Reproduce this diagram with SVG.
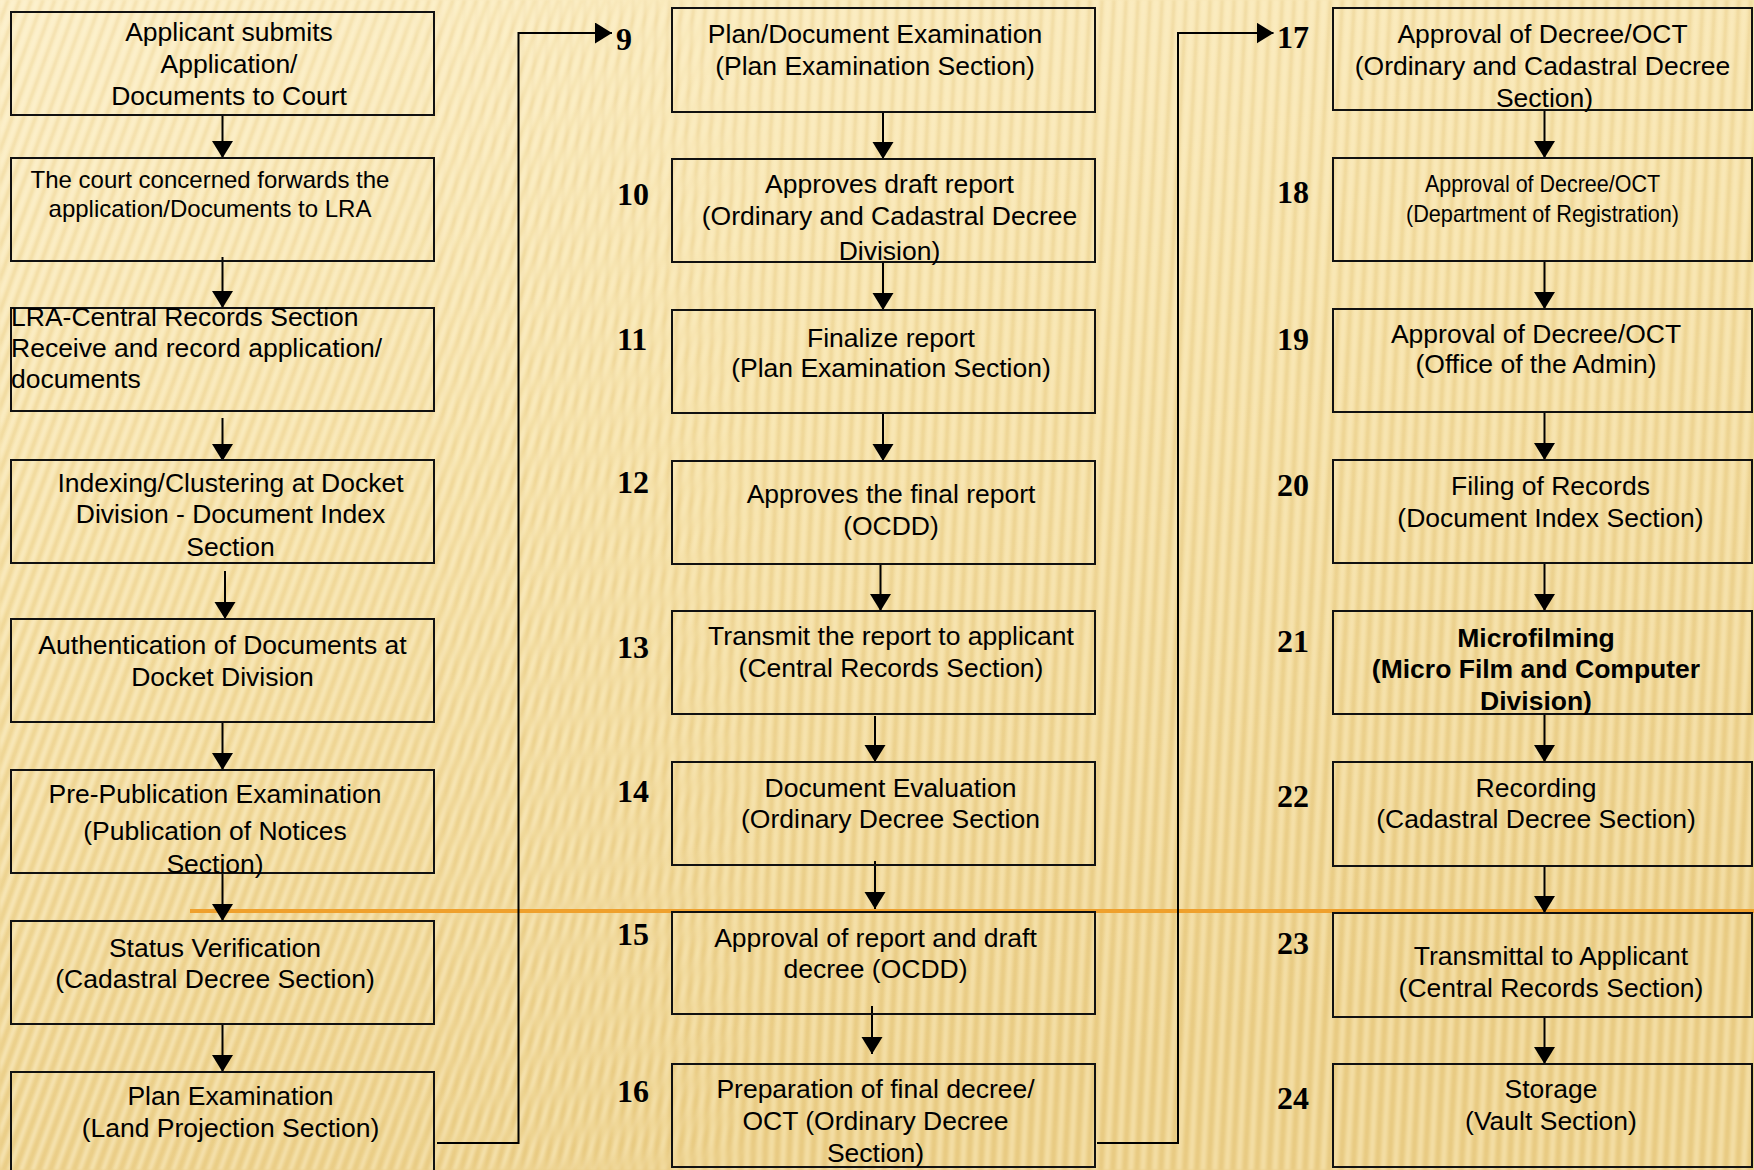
<svg xmlns="http://www.w3.org/2000/svg" width="1754" height="1170" viewBox="0 0 1754 1170">
  <defs>
    <linearGradient id="bg" x1="0" y1="0" x2="0.35" y2="1">
      <stop offset="0" stop-color="#FBEDC4"/>
      <stop offset="0.45" stop-color="#F5E0A6"/>
      <stop offset="1" stop-color="#ECD08A"/>
    </linearGradient>
    <pattern id="streakSlant" width="11" height="60" patternUnits="userSpaceOnUse" patternTransform="rotate(20)">
      <rect x="0" width="4" height="60" fill="#FFF8DC" opacity="0.4"/>
      <rect x="6" width="3" height="60" fill="#D9B865" opacity="0.22"/>
    </pattern>
    <pattern id="streakUp" width="12" height="60" patternUnits="userSpaceOnUse" patternTransform="rotate(3)">
      <rect x="0" width="5" height="60" fill="#FFF4D0" opacity="0.4"/>
      <rect x="7" width="3" height="60" fill="#D6B462" opacity="0.25"/>
    </pattern>
    <filter id="soft" x="0" y="0" width="1" height="1">
      <feGaussianBlur stdDeviation="1.3"/>
    </filter>
    <linearGradient id="fadeLeft" x1="0" y1="0" x2="1" y2="0">
      <stop offset="0" stop-color="#fff" stop-opacity="1"/>
      <stop offset="0.3" stop-color="#fff" stop-opacity="0.8"/>
      <stop offset="0.45" stop-color="#fff" stop-opacity="0"/>
    </linearGradient>
    <linearGradient id="fadeRight" x1="0" y1="0" x2="1" y2="0">
      <stop offset="0.2" stop-color="#fff" stop-opacity="0"/>
      <stop offset="0.45" stop-color="#fff" stop-opacity="0.9"/>
      <stop offset="1" stop-color="#fff" stop-opacity="0.9"/>
    </linearGradient>
    <mask id="maskLeft"><rect width="1754" height="1170" fill="url(#fadeLeft)"/></mask>
    <mask id="maskRight"><rect width="1754" height="1170" fill="url(#fadeRight)"/></mask>
    <marker id="arrow" markerUnits="userSpaceOnUse" markerWidth="18" markerHeight="22" refX="17" refY="10.5" orient="auto">
      <path d="M0,0 L17,10.5 L0,21 Z" fill="#000"/>
    </marker>
  </defs>
  <style>
    .box { fill: none; stroke: #111; stroke-width: 2; }
    .t { font-family: "Liberation Sans", Arial, sans-serif; font-size: 26.5px; fill: #000; text-anchor: middle; }
    .sm { font-size: 24px; }
    .b { font-weight: bold; }
    .l { text-anchor: start; }
    .num { font-family: "Liberation Serif", "Times New Roman", serif; font-size: 32px; font-weight: bold; fill: #000; }
    .link { fill: none; stroke: #000; stroke-width: 2; }
    .step { marker-end: url(#arrow); }
  </style>

  <!-- background -->
  <rect width="1754" height="1170" fill="url(#bg)"/>
  <g filter="url(#soft)">
    <rect width="1754" height="1170" fill="url(#streakSlant)" mask="url(#maskLeft)"/>
    <rect width="1754" height="1170" fill="url(#streakUp)" mask="url(#maskRight)"/>
  </g>

  <!-- divider -->
  <line x1="190" y1="911" x2="1754" y2="911" stroke="#EFA02C" stroke-width="4"/>

  <!-- connectors -->
  <g id="connectors">
    <line class="link step" x1="222.5" y1="115" x2="222.5" y2="158"/>
    <line class="link step" x1="222.5" y1="257" x2="222.5" y2="308"/>
    <line class="link step" x1="222.5" y1="418" x2="222.5" y2="461"/>
    <line class="link step" x1="225" y1="571" x2="225" y2="619"/>
    <line class="link step" x1="222.5" y1="722" x2="222.5" y2="770"/>
    <line class="link step" x1="222.5" y1="873" x2="222.5" y2="921"/>
    <line class="link step" x1="222.5" y1="1024" x2="222.5" y2="1072"/>
    <path class="link step" d="M437,1143 H518.5 V33 H612"/>

    <line class="link step" x1="883" y1="112" x2="883" y2="159"/>
    <line class="link step" x1="883" y1="262" x2="883" y2="310"/>
    <line class="link step" x1="883" y1="413" x2="883" y2="461"/>
    <line class="link step" x1="880.5" y1="564" x2="880.5" y2="611"/>
    <line class="link step" x1="875" y1="716" x2="875" y2="762"/>
    <line class="link step" x1="875" y1="861" x2="875" y2="909"/>
    <line class="link step" x1="872" y1="1006" x2="872" y2="1054"/>
    <path class="link step" d="M1097,1143 H1178 V33 H1273.5"/>

    <line class="link step" x1="1544.5" y1="110" x2="1544.5" y2="158"/>
    <line class="link step" x1="1544.5" y1="261" x2="1544.5" y2="309"/>
    <line class="link step" x1="1544.5" y1="412" x2="1544.5" y2="460"/>
    <line class="link step" x1="1544.5" y1="563" x2="1544.5" y2="611"/>
    <line class="link step" x1="1544.5" y1="714" x2="1544.5" y2="762"/>
    <line class="link step" x1="1544.5" y1="866" x2="1544.5" y2="913"/>
    <line class="link step" x1="1544.5" y1="1017" x2="1544.5" y2="1064"/>
  </g>

  <!-- left column -->
  <g id="n1">
    <rect class="box" x="11" y="12" width="423" height="103"/>
    <text class="t" x="229" y="41">Applicant submits</text>
    <text class="t" x="229" y="73">Application/</text>
    <text class="t" x="229" y="105">Documents to Court</text>
  </g>
  <g id="n2">
    <rect class="box" x="11" y="158" width="423" height="103"/>
    <text class="t sm" x="210" y="188">The court concerned forwards the</text>
    <text class="t sm" x="210" y="217">application/Documents to LRA</text>
  </g>
  <g id="n3">
    <rect class="box" x="11" y="308" width="423" height="103"/>
    <text class="t l" x="11" y="326">LRA-Central Records Section</text>
    <text class="t l" x="11" y="357">Receive and record application/</text>
    <text class="t l" x="11" y="388">documents</text>
  </g>
  <g id="n4">
    <rect class="box" x="11" y="460" width="423" height="103"/>
    <text class="t" x="230.5" y="492">Indexing/Clustering at Docket</text>
    <text class="t" x="230.5" y="523">Division - Document Index</text>
    <text class="t" x="230.5" y="556">Section</text>
  </g>
  <g id="n5">
    <rect class="box" x="11" y="619" width="423" height="103"/>
    <text class="t" x="222.5" y="654">Authentication of Documents at</text>
    <text class="t" x="222.5" y="686">Docket Division</text>
  </g>
  <g id="n6">
    <rect class="box" x="11" y="770" width="423" height="103"/>
    <text class="t" x="215" y="803">Pre-Publication Examination</text>
    <text class="t" x="215" y="840">(Publication of Notices</text>
    <text class="t" x="215" y="873">Section)</text>
  </g>
  <g id="n7">
    <rect class="box" x="11" y="921" width="423" height="103"/>
    <text class="t" x="215" y="957">Status Verification</text>
    <text class="t" x="215" y="988">(Cadastral Decree Section)</text>
  </g>
  <g id="n8">
    <rect class="box" x="11" y="1072" width="423" height="103"/>
    <text class="t" x="230.5" y="1105">Plan Examination</text>
    <text class="t" x="230.5" y="1137">(Land Projection Section)</text>
  </g>

  <!-- middle column -->
  <g id="n9">
    <text class="num" x="616" y="50">9</text>
    <rect class="box" x="672" y="8" width="423" height="104"/>
    <text class="t" x="875" y="43">Plan/Document Examination</text>
    <text class="t" x="875" y="75">(Plan Examination Section)</text>
  </g>
  <g id="n10">
    <text class="num" x="617" y="205">10</text>
    <rect class="box" x="672" y="159" width="423" height="103"/>
    <text class="t" x="889.5" y="193">Approves draft report</text>
    <text class="t" x="889.5" y="225">(Ordinary and Cadastral Decree</text>
    <text class="t" x="889.5" y="260">Division)</text>
  </g>
  <g id="n11">
    <text class="num" x="617" y="350">11</text>
    <rect class="box" x="672" y="310" width="423" height="103"/>
    <text class="t" x="891" y="347">Finalize report</text>
    <text class="t" x="891" y="377">(Plan Examination Section)</text>
  </g>
  <g id="n12">
    <text class="num" x="617" y="493">12</text>
    <rect class="box" x="672" y="461" width="423" height="103"/>
    <text class="t" x="891" y="503">Approves the final report</text>
    <text class="t" x="891" y="535">(OCDD)</text>
  </g>
  <g id="n13">
    <text class="num" x="617" y="658">13</text>
    <rect class="box" x="672" y="611" width="423" height="103"/>
    <text class="t" x="891" y="645">Transmit the report to applicant</text>
    <text class="t" x="891" y="677">(Central Records Section)</text>
  </g>
  <g id="n14">
    <text class="num" x="617" y="802">14</text>
    <rect class="box" x="672" y="762" width="423" height="103"/>
    <text class="t" x="890.5" y="797">Document Evaluation</text>
    <text class="t" x="890.5" y="828">(Ordinary Decree Section</text>
  </g>
  <g id="n15">
    <text class="num" x="617" y="945">15</text>
    <rect class="box" x="672" y="912" width="423" height="102"/>
    <text class="t" x="875.5" y="947">Approval of report and draft</text>
    <text class="t" x="875.5" y="978">decree (OCDD)</text>
  </g>
  <g id="n16">
    <text class="num" x="617" y="1102">16</text>
    <rect class="box" x="672" y="1064" width="423" height="103"/>
    <text class="t" x="875.5" y="1098">Preparation of final decree/</text>
    <text class="t" x="875.5" y="1130">OCT (Ordinary Decree</text>
    <text class="t" x="875.5" y="1162">Section)</text>
  </g>

  <!-- right column -->
  <g id="n17">
    <text class="num" x="1277" y="48">17</text>
    <rect class="box" x="1333" y="8" width="419" height="102"/>
    <text class="t" x="1542.5" y="43">Approval of Decree/OCT</text>
    <text class="t" x="1542.5" y="75">(Ordinary and Cadastral Decree</text>
    <text class="t" x="1544.5" y="107">Section)</text>
  </g>
  <g id="n18">
    <text class="num" x="1277" y="203">18</text>
    <rect class="box" x="1333" y="158" width="419" height="103"/>
    <text class="t sm" x="1542.5" y="192" textLength="235" lengthAdjust="spacingAndGlyphs">Approval of Decree/OCT</text>
    <text class="t sm" x="1542.5" y="222" textLength="273" lengthAdjust="spacingAndGlyphs">(Department of Registration)</text>
  </g>
  <g id="n19">
    <text class="num" x="1277" y="350">19</text>
    <rect class="box" x="1333" y="309" width="419" height="103"/>
    <text class="t" x="1536" y="343">Approval of Decree/OCT</text>
    <text class="t" x="1536" y="373">(Office of the Admin)</text>
  </g>
  <g id="n20">
    <text class="num" x="1277" y="496">20</text>
    <rect class="box" x="1333" y="460" width="419" height="103"/>
    <text class="t" x="1550.5" y="495">Filing of Records</text>
    <text class="t" x="1550.5" y="527">(Document Index Section)</text>
  </g>
  <g id="n21">
    <text class="num" x="1277" y="652">21</text>
    <rect class="box" x="1333" y="611" width="419" height="103"/>
    <text class="t b" x="1536" y="647">Microfilming</text>
    <text class="t b" x="1536" y="678">(Micro Film and Computer</text>
    <text class="t b" x="1536" y="710">Division)</text>
  </g>
  <g id="n22">
    <text class="num" x="1277" y="807">22</text>
    <rect class="box" x="1333" y="762" width="419" height="104"/>
    <text class="t" x="1536" y="797">Recording</text>
    <text class="t" x="1536" y="828">(Cadastral Decree Section)</text>
  </g>
  <g id="n23">
    <text class="num" x="1277" y="954">23</text>
    <rect class="box" x="1333" y="913" width="419" height="104"/>
    <text class="t" x="1551" y="965">Transmittal to Applicant</text>
    <text class="t" x="1551" y="997">(Central Records Section)</text>
  </g>
  <g id="n24">
    <text class="num" x="1277" y="1109">24</text>
    <rect class="box" x="1333" y="1064" width="419" height="103"/>
    <text class="t" x="1551" y="1098">Storage</text>
    <text class="t" x="1551" y="1130">(Vault Section)</text>
  </g>
</svg>
